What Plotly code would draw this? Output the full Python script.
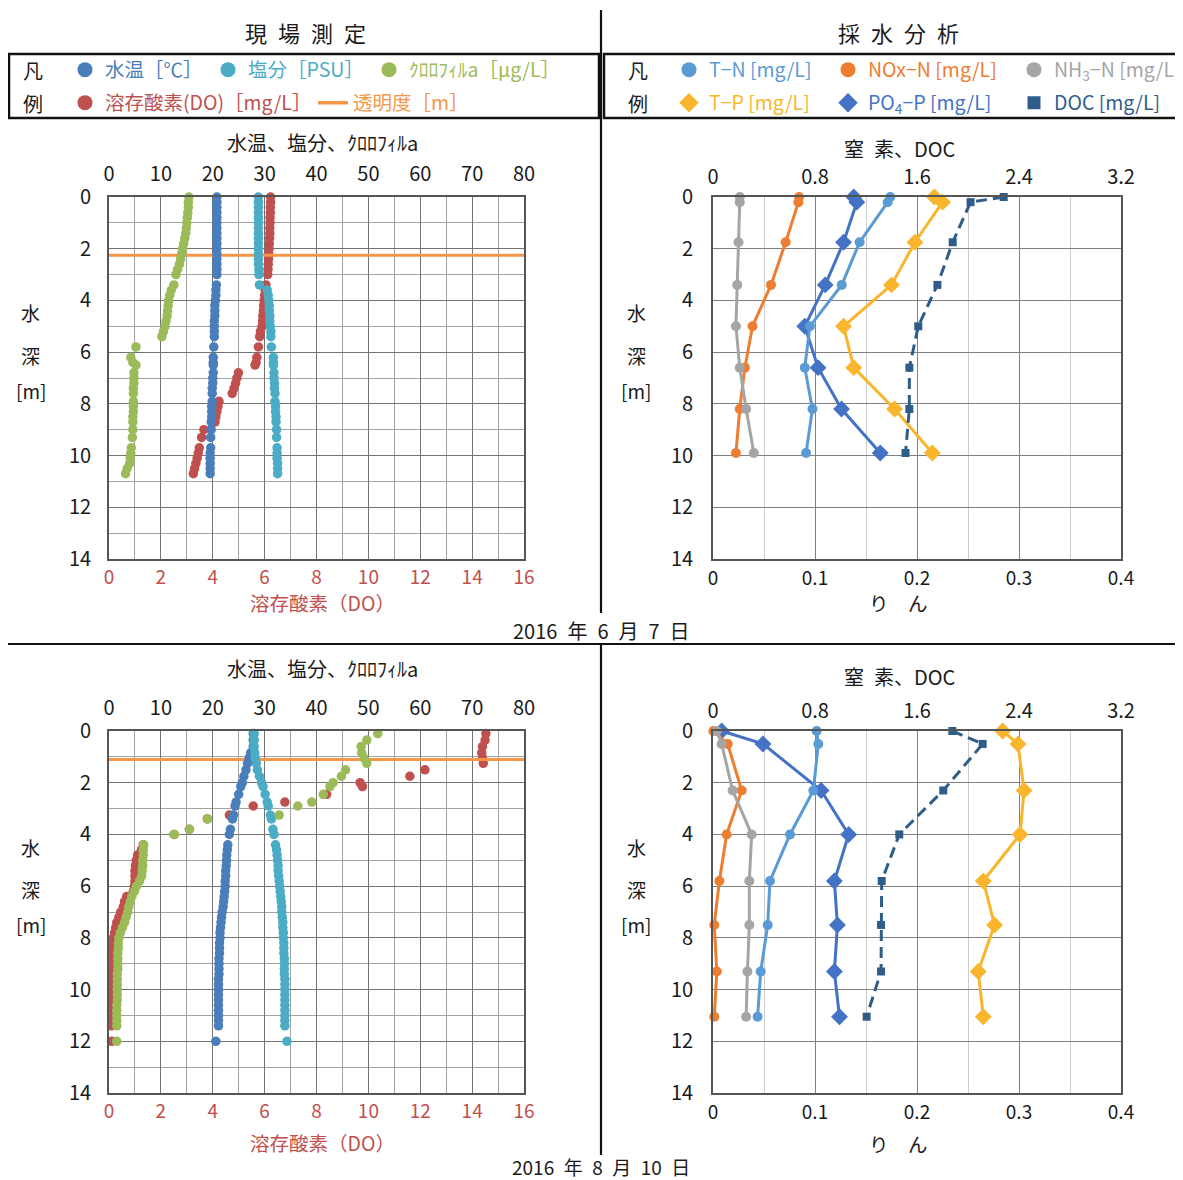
import plotly.graph_objects as go

# ---------------- data : field measurements (CTD profiles) ----------------
# 2016-06-07
depth_jun = [0.0, 0.2, 0.4, 0.6, 0.8, 1.0, 1.2, 1.4, 1.6, 1.8, 2.0, 2.2, 2.4, 2.6, 2.8, 3.0,
             3.4, 3.6, 3.8, 4.0, 4.2, 4.4, 4.6, 4.8, 5.0, 5.2, 5.4,
             5.8,
             6.2, 6.4, 6.5,
             6.8, 7.0, 7.2, 7.4, 7.6,
             7.9, 8.1, 8.3, 8.5, 8.7,
             9.0, 9.3,
             9.7, 9.9, 10.1, 10.3, 10.5, 10.7]
temp_jun = [20.8, 20.8, 20.8, 20.8, 20.8, 20.8, 20.8, 20.8, 20.8, 20.8, 20.8, 20.8, 20.8, 20.8, 20.8, 20.8,
            20.7, 20.6, 20.6, 20.5, 20.4, 20.4, 20.4, 20.3, 20.3, 20.3, 20.3,
            20.2,
            20.1, 20.1, 20.1,
            20.1, 20.0, 20.0, 19.9, 19.9,
            19.9, 19.8, 19.8, 19.8, 19.7,
            19.7, 19.6,
            19.6, 19.5, 19.5, 19.5, 19.5, 19.5]
sal_jun = [28.8, 28.8, 28.8, 28.8, 28.8, 28.8, 28.8, 28.8, 28.8, 28.8, 28.8, 28.8, 28.8, 28.8, 28.9, 28.9,
           29.0, 30.5, 30.7, 30.8, 30.9, 30.9, 31.0, 31.0, 31.1, 31.2, 31.2,
           31.3,
           31.7, 31.7, 31.7,
           31.8, 31.8, 31.9, 31.9, 32.0,
           32.0, 32.1, 32.1, 32.2, 32.2,
           32.3, 32.3,
           32.4, 32.4, 32.4, 32.5, 32.5, 32.5]
chl_jun = [15.4, 15.3, 15.3, 15.2, 15.1, 15.0, 14.9, 14.8, 14.6, 14.4, 14.2, 14.0, 13.8, 13.6, 13.2, 12.9,
           12.5, 12.0, 11.7, 11.5, 11.4, 11.3, 11.2, 11.0, 10.8, 10.5, 10.2,
           5.2,
           4.2, 4.6, 5.2,
           4.8, 4.8, 4.8, 4.7, 4.7,
           4.7, 4.7, 4.7, 4.6, 4.6,
           4.6, 4.5,
           4.3, 4.2, 4.1, 4.0, 3.5, 3.2]
do_jun = [6.23, 6.23, 6.22, 6.22, 6.21, 6.21, 6.20, 6.20, 6.19, 6.18, 6.17, 6.16, 6.15, 6.14, 6.13, 6.12,
          6.05, 6.02, 6.00, 5.98, 5.96, 5.95, 5.93, 5.92, 5.90, 5.84, 5.81,
          5.76,
          5.70, 5.67, 5.63,
          4.99, 4.93, 4.88, 4.82, 4.75,
          4.24, 4.20, 4.16, 4.12, 4.09,
          3.66, 3.57,
          3.48, 3.44, 3.40, 3.35, 3.30, 3.25]
secchi_jun = 2.25

# 2016-08-10
depth_aug = [0.1, 0.35, 0.6, 0.85, 1.05, 1.25, 1.5, 1.75, 2.0, 2.15, 2.45, 2.75, 2.9, 3.25, 3.4, 3.8, 4.0, 4.4,
             4.6, 4.8, 5.0, 5.2, 5.4, 5.6, 5.8, 6.0, 6.2, 6.4, 6.6, 6.8, 7.0, 7.2, 7.4, 7.6, 7.8, 8.0,
             8.2, 8.4, 8.6, 8.8, 9.0, 9.2, 9.4, 9.6, 9.8, 10.0, 10.2, 10.4, 10.6, 10.8, 11.0, 11.2, 11.4,
             12.0]
temp_aug = [27.8, 27.8, 27.8, 27.3, 27.0, 26.7, 26.4, 26.0, 25.7, 25.4, 25.0, 24.5, 24.3, 24.0, 23.8, 23.4, 23.2, 22.9,
            22.8, 22.7, 22.65, 22.6, 22.5, 22.5, 22.4, 22.4, 22.3, 22.2, 22.1, 22.0, 21.8, 21.7, 21.6, 21.5, 21.4, 21.4,
            21.3, 21.3, 21.3, 21.2, 21.2, 21.2, 21.2, 21.1, 21.1, 21.1, 21.1, 21.1, 21.1, 21.1, 21.1, 21.1, 21.1,
            20.6]
sal_aug = [28.0, 28.0, 28.0, 28.1, 28.2, 28.4, 28.6, 29.0, 29.4, 29.7, 30.1, 30.5, 30.7, 31.1, 31.3, 31.6, 31.8, 32.1,
           32.3, 32.4, 32.5, 32.6, 32.6, 32.7, 32.8, 32.9, 33.0, 33.1, 33.2, 33.3, 33.3, 33.4, 33.5, 33.5, 33.6, 33.6,
           33.7, 33.7, 33.7, 33.8, 33.8, 33.8, 33.8, 33.9, 33.9, 33.9, 33.9, 33.9, 33.9, 33.9, 33.9, 33.9, 33.9,
           34.3]
chl_aug = [51.8, 49.7, 48.6, 48.7, 49.2, 49.7, 45.6, 44.8, 43.2, 42.6, 41.3, 39.1, 36.4, 32.8, 19.0, 15.5, 12.6, 6.7,
           6.6, 6.6, 6.5, 6.5, 6.4, 6.3, 5.9, 5.3, 4.9, 4.4, 4.1, 3.8, 3.6, 3.3, 3.0, 2.6, 2.2, 1.9,
           1.8, 1.8, 1.7, 1.7, 1.7, 1.7, 1.6, 1.6, 1.6, 1.6, 1.6, 1.6, 1.5, 1.5, 1.5, 1.5, 1.5,
           1.5]
do_aug = [14.53, 14.50, 14.40, 14.37, 14.40, 14.43, 12.18, 11.60, 9.68, 9.77, 8.39, 6.78, 5.56, 4.64, 3.79, 3.10, 2.51, 1.32,
          1.25, 1.10, 1.05, 1.02, 1.00, 1.00, 1.00, 0.98, 0.94, 0.68, 0.60, 0.55, 0.45, 0.38, 0.30, 0.26, 0.22, 0.17,
          0.12, 0.10, 0.10, 0.10, 0.10, 0.10, 0.10, 0.10, 0.10, 0.10, 0.10, 0.10, 0.10, 0.10, 0.10, 0.10, 0.10,
          0.10]
secchi_aug = 1.1

# ---------------- data : water sampling analysis ----------------
wdepth_jun = [0.0, 0.2, 1.75, 3.4, 5.0, 6.6, 8.2, 9.9]
tn_jun = [1.39, 1.37, 1.15, 1.01, 0.76, 0.72, 0.78, 0.73]
nox_jun = [0.675, 0.67, 0.57, 0.455, 0.31, 0.25, 0.21, 0.18]
nh3_jun = [0.21, 0.21, 0.20, 0.19, 0.18, 0.21, 0.26, 0.32]
tp_jun = [0.217, 0.225, 0.198, 0.175, 0.128, 0.138, 0.178, 0.215]
po4_jun = [0.138, 0.141, 0.128, 0.110, 0.090, 0.103, 0.126, 0.164]
doc_jun = [2.28, 2.02, 1.88, 1.76, 1.61, 1.54, 1.54, 1.51]

wdepth_aug = [0.0, 0.5, 2.3, 4.0, 5.8, 7.5, 9.3, 11.05]
tn_aug = [0.813, 0.826, 0.787, 0.604, 0.447, 0.429, 0.374, 0.35]
nox_aug = [0.003, 0.115, 0.225, 0.107, 0.05, 0.01, 0.03, 0.01]
nh3_aug = [0.03, 0.068, 0.154, 0.303, 0.285, 0.285, 0.27, 0.26]
tp_aug = [0.284, 0.299, 0.305, 0.301, 0.265, 0.276, 0.26, 0.265]
po4_aug = [0.0085, 0.049, 0.106, 0.133, 0.119, 0.122, 0.119, 0.124]
doc_aug = [1.877, 2.115, 1.806, 1.461, 1.323, 1.318, 1.318, 1.205]

# axis ranges
field_top_range = [0, 80]
field_do_range = [0, 16]
water_n_range = [0, 3.2]
water_p_range = [0, 0.4]
depth_range = [14, 0]

# ---------------- styling ----------------
# the page body has an 8px margin: the figure is placed at (8, 8) in the window
OFF = 8
W, H = 1175, 1172
FONT = "Noto Sans CJK JP"
C_TEMP = "#4a7ebb"
C_SAL = "#4bacc6"
C_CHL = "#9bbb59"
C_DO = "#c0504d"
C_TR = "#f79646"
C_TN = "#5b9bd5"
C_NOX = "#ed7d31"
C_NH3 = "#a5a5a5"
C_TP = "#f9b52c"
C_PO4 = "#4472c4"
C_DOC = "#2f5d8a"
TXT = "#1a1a1a"
TICK = 20


def fx(p):
    return (p - OFF) / W


def fy(p):
    return 1 - (p - OFF) / H


fig = go.Figure()


def add_field(xb, xt, ya, dep, t, s, c, do, secchi):
    fig.add_trace(go.Scatter(x=field_top_range, y=[secchi, secchi], xaxis=xt, yaxis=ya, mode="lines",
                             line=dict(color=C_TR, width=3), showlegend=False, hoverinfo="skip"))
    for vals, col, ax in [(t, C_TEMP, xt), (s, C_SAL, xt), (c, C_CHL, xt), (do, C_DO, xb)]:
        fig.add_trace(go.Scatter(x=vals, y=dep, xaxis=ax, yaxis=ya, mode="markers",
                                 marker=dict(color=col, size=9.5, line=dict(width=0)),
                                 showlegend=False, cliponaxis=False))


def add_water(xb, xt, ya, dep, tn, nox, nh3, tp, po4, doc):
    specs = [(tn, C_TN, "circle", 10, xt, "solid"),
             (nox, C_NOX, "circle", 10, xt, "solid"),
             (nh3, C_NH3, "circle", 10, xt, "solid"),
             (tp, C_TP, "diamond", 13, xb, "solid"),
             (po4, C_PO4, "diamond", 13, xb, "solid"),
             (doc, C_DOC, "square", 8, xt, "11px,6px")]
    for vals, col, sym, sz, ax, dash in specs:
        fig.add_trace(go.Scatter(x=vals, y=dep, xaxis=ax, yaxis=ya, mode="lines+markers",
                                 line=dict(color=col, width=3, dash=dash),
                                 marker=dict(symbol=sym, size=sz, color=col, line=dict(width=0)),
                                 showlegend=False, cliponaxis=False))


add_field("x", "x2", "y", depth_jun, temp_jun, sal_jun, chl_jun, do_jun, secchi_jun)
add_water("x3", "x4", "y2", wdepth_jun, tn_jun, nox_jun, nh3_jun, tp_jun, po4_jun, doc_jun)
add_field("x5", "x6", "y3", depth_aug, temp_aug, sal_aug, chl_aug, do_aug, secchi_aug)
add_water("x7", "x8", "y4", wdepth_aug, tn_aug, nox_aug, nh3_aug, tp_aug, po4_aug, doc_aug)

# ---------------- axes ----------------
LINEC = "#555555"


def xbot(dom, rng, dtick, mdtick, tcolor, anchor, major_c, minor_c, standoff):
    return dict(domain=dom, range=rng, dtick=dtick, tick0=0, showgrid=True, gridcolor=major_c, gridwidth=1.3,
                minor=dict(dtick=mdtick, tick0=0, showgrid=True, gridcolor=minor_c, gridwidth=1.3),
                showline=True, linecolor=LINEC, linewidth=1.8, mirror=True, ticks="", zeroline=False,
                tickfont=dict(family=FONT, size=19, color=tcolor), anchor=anchor, side="bottom",
                ticklabelstandoff=standoff, fixedrange=True)


def xtop(rng, dtick, over, anchor, standoff):
    return dict(range=rng, dtick=dtick, tick0=0, overlaying=over, side="top", anchor=anchor,
                showgrid=False, showline=False, zeroline=False, ticks="",
                tickfont=dict(family=FONT, size=TICK, color=TXT), ticklabelstandoff=standoff, fixedrange=True)


def yax(dom, anchor, minor, major_c, standoff):
    d = dict(domain=dom, range=depth_range, dtick=2, tick0=0, showgrid=True, gridcolor=major_c, gridwidth=1.3,
             showline=True, linecolor=LINEC, linewidth=1.8, mirror=True, ticks="", zeroline=False,
             tickfont=dict(family=FONT, size=TICK, color=TXT), anchor=anchor, ticklabelstandoff=standoff,
             fixedrange=True)
    if minor:
        d["minor"] = dict(dtick=1, tick0=0, showgrid=True, gridcolor="#a3a3a3", gridwidth=1.3)
    return d


L_DOM = [fx(109), fx(524)]
R_DOM = [fx(713), fx(1121)]
T_DOM = [fy(559), fy(197)]
B_DOM = [fy(1093), fy(731)]

layout = dict(
    width=W, height=H,
    margin=dict(l=0, r=0, t=0, b=0, autoexpand=False),
    paper_bgcolor="white", plot_bgcolor="white",
    font=dict(family=FONT, color=TXT),
    xaxis=xbot(L_DOM, field_do_range, 2, 1, C_DO, "y", "#737373", "#a3a3a3", 0),
    xaxis2=xtop(field_top_range, 10, "x", "y", 11),
    xaxis3=xbot(R_DOM, water_p_range, 0.1, 0.05, TXT, "y2", "#808080", "#cccccc", 1),
    xaxis4=xtop(water_n_range, 0.8, "x3", "y2", 8),
    xaxis5=xbot(L_DOM, field_do_range, 2, 1, C_DO, "y3", "#737373", "#a3a3a3", 0),
    xaxis6=xtop(field_top_range, 10, "x5", "y3", 11),
    xaxis7=xbot(R_DOM, water_p_range, 0.1, 0.05, TXT, "y4", "#808080", "#cccccc", 1),
    xaxis8=xtop(water_n_range, 0.8, "x7", "y4", 8),
    yaxis=yax(T_DOM, "x", True, "#737373", 12),
    yaxis2=yax(T_DOM, "x3", False, "#808080", 14),
    yaxis3=yax(B_DOM, "x5", True, "#737373", 12),
    yaxis4=yax(B_DOM, "x7", False, "#808080", 14),
    showlegend=True,
)

# ---------------- legend (one Plotly legend per entry) ----------------
leg_specs = [
    ("legend", 85, 70, "水温［℃］", C_TEMP, "circle", "x", "y"),
    ("legend2", 228, 70, "塩分［PSU］", C_SAL, "circle", "x", "y"),
    ("legend3", 389, 70, "ｸﾛﾛﾌｨﾙa［μg/L］", C_CHL, "circle", "x", "y"),
    ("legend4", 85, 103, "溶存酸素(DO)［mg/L］", C_DO, "circle", "x", "y"),
    ("legend5", 333, 103, "透明度［m］", C_TR, "line", "x", "y"),
    ("legend6", 689, 70, "T−N [mg/L]", C_TN, "circle", "x3", "y2"),
    ("legend7", 848, 70, "NOx−N [mg/L]", C_NOX, "circle", "x3", "y2"),
    ("legend8", 1034, 70, "NH<sub>3</sub>−N [mg/L]", C_NH3, "circle", "x3", "y2"),
    ("legend9", 689, 103, "T−P [mg/L]", C_TP, "diamond", "x3", "y2"),
    ("legend10", 848, 103, "PO<sub>4</sub>−P [mg/L]", C_PO4, "diamond", "x3", "y2"),
    ("legend11", 1034, 103, "DOC [mg/L]", C_DOC, "square", "x3", "y2"),
]
for lid, cx, cy, text, col, kind, xa, ya in leg_specs:
    if kind == "line":
        tr = go.Scatter(x=[None], y=[None], mode="lines", line=dict(color=col, width=3.5))
    else:
        size = {"circle": 15, "diamond": 15, "square": 13}[kind]
        tr = go.Scatter(x=[None], y=[None], mode="markers", marker=dict(symbol=kind, color=col, size=size))
    tr.update(name=text, legend=lid, showlegend=True, hoverinfo="skip", xaxis=xa, yaxis=ya)
    fig.add_trace(tr)
    layout[lid] = dict(x=fx(cx - 20), y=fy(cy), xanchor="left", yanchor="middle", orientation="h",
                       font=dict(family=FONT, size=19.5, color=col), bgcolor="rgba(0,0,0,0)",
                       borderwidth=0, itemwidth=30)

fig.update_layout(**layout)

# ---------------- annotations ----------------
ann = []
SP = "\u2002"


def text(x, y, s, size=18, color=TXT):
    ann.append(dict(x=fx(x), y=fy(y), xref="paper", yref="paper", text=s, showarrow=False,
                    xanchor="center", yanchor="middle", font=dict(family=FONT, size=size, color=color)))


text(305, 32, SP.join("現場測定"), 22)
text(898, 32, SP.join("採水分析"), 22)
for xx in (33, 638):
    text(xx, 70, "凡", 20)
    text(xx, 103, "例", 20)

text(322, 142, "水温、塩分、ｸﾛﾛﾌｨﾙa", 20)
text(900, 149, "窒" + SP + "素、DOC", 20)
text(322, 668, "水温、塩分、ｸﾛﾛﾌｨﾙa", 20)
text(900, 676, "窒" + SP + "素、DOC", 20)

text(322, 602, "溶存酸素（DO）", 19.5, C_DO)
text(898, 603, "り　ん", 19.5)
text(322, 1142, "溶存酸素（DO）", 19.5, C_DO)
text(898, 1143, "り　ん", 19.5)

for xx in (31, 636):
    for yy0 in (313, 847):
        text(xx, yy0, "水", 19)
        text(xx, yy0 + 42, "深", 19)
        text(xx, yy0 + 77, "[m]", 19)

text(601, 630, SP.join(["2016", "年", "6", "月", "7", "日"]), 20)
text(601, 1166, SP.join(["2016", "年", "8", "月", "10", "日"]), 19)

# ---------------- frame lines ----------------
shapes = []


def pline(x0, y0, x1, y1, w=2.2):
    shapes.append(dict(type="line", xref="paper", yref="paper", x0=fx(x0), y0=fy(y0), x1=fx(x1), y1=fy(y1),
                       line=dict(color="#111111", width=w)))


pline(601, 10, 601, 613)
pline(0, 644, 1190, 644)
pline(601, 644, 601, 1155)
shapes.append(dict(type="rect", xref="paper", yref="paper", x0=fx(9), y0=fy(54), x1=fx(599), y1=fy(118),
                   line=dict(color="#111111", width=2.5)))
shapes.append(dict(type="rect", xref="paper", yref="paper", x0=fx(604), y0=fy(54), x1=fx(1195), y1=fy(118),
                   line=dict(color="#111111", width=2.5)))

fig.update_layout(annotations=ann, shapes=shapes)

fig.write_html("out.html")
